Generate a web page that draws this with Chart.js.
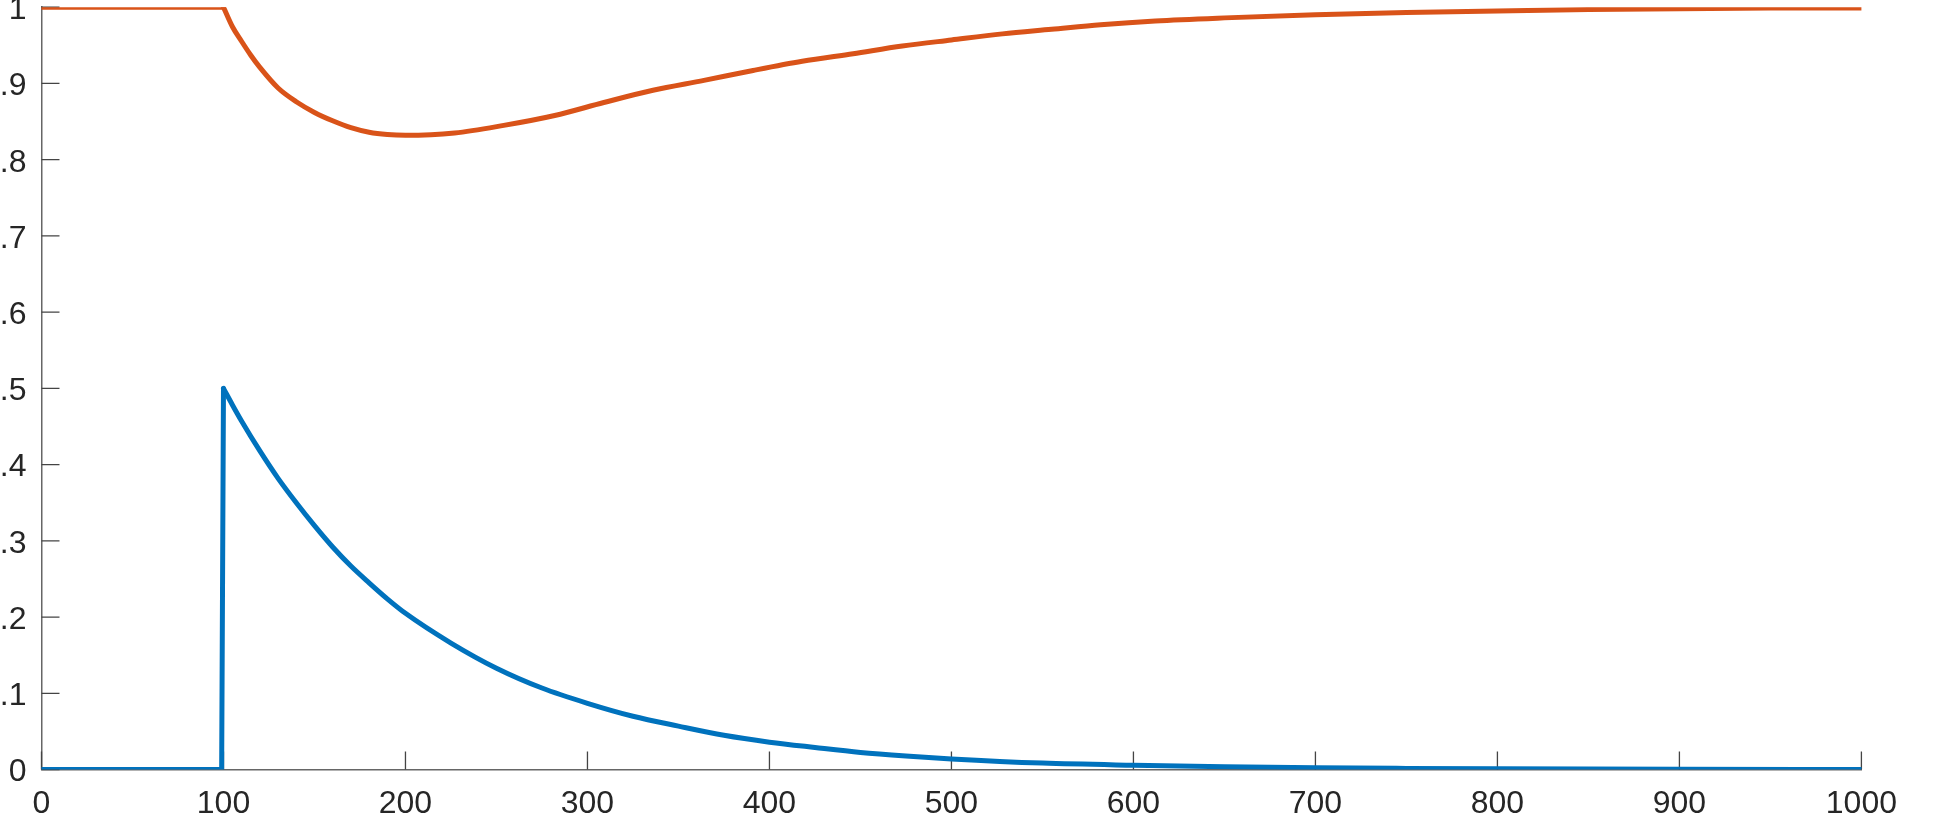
<!DOCTYPE html>
<html>
<head>
<meta charset="utf-8">
<script src="https://cdn.jsdelivr.net/npm/chart.js@4.4.1/dist/chart.umd.min.js"></script>
<style>
    html, body { margin: 0; padding: 0; background: #fff; }
    body { position: relative; width: 1937px; height: 835px; overflow: hidden; }
    #chart { position: absolute; left: 0; top: 0; }
</style>
</head>
<body>
<canvas id="chart" width="2000" height="900"></canvas>
<script>
// time axis and the two simulated signals
const blueT = [0, 99, 100, 105, 110, 120, 130, 140, 150, 160, 170, 180, 190, 200, 225, 250, 275, 300, 325, 350, 375, 400, 425, 450, 475, 500, 550, 600, 650, 700, 750, 800, 900, 1000];
const blueV = [0, 0, 0.5, 0.478, 0.457, 0.418, 0.382, 0.350, 0.320, 0.292, 0.267, 0.245, 0.224, 0.205, 0.166, 0.133, 0.107, 0.087, 0.070, 0.057, 0.045, 0.036, 0.029, 0.0225, 0.0178, 0.014, 0.0085, 0.0057, 0.0037, 0.0024, 0.0016, 0.001, 0.0004, 0.0002];

const orangeT = [0, 100, 105, 110, 115, 120, 130, 140, 150, 160, 170, 180, 190, 200, 227, 254, 282, 309, 336, 364, 391, 418, 446, 473, 500, 528, 555, 582, 612, 650, 700, 750, 800, 850, 900, 950, 1000];
const orangeV = [1, 1, 0.974, 0.955, 0.937, 0.921, 0.894, 0.876, 0.862, 0.851, 0.842, 0.836, 0.833, 0.832, 0.835, 0.845, 0.858, 0.875, 0.891, 0.904, 0.917, 0.929, 0.939, 0.949, 0.957, 0.965, 0.971, 0.977, 0.982, 0.986, 0.990, 0.993, 0.995, 0.997, 0.998, 0.999, 0.999];

// index where each signal leaves its flat start (sharp corner there)
const blueBreak = 2;
const orangeBreak = 1;

const xRange = [0, 1000];
const yRange = [0, 1];
const xStep = 100;
const yStep = 0.1;

// where the plot box sits in the page
const PLOT = { left: 41.5, top: 7, right: 1861.5, bottom: 769 };

const blueColor = '#0072BD';
const orangeColor = '#D95319';
const axisColor = '#666666';
const tickColor = '#444444';
const textColor = '#262626';
const fontFamily = '"Liberation Sans", Helvetica, Arial, sans-serif';

function toPoints(ts, vs, from, to) {
    const pts = [];
    for (let i = from; i < to; i++) {
        pts.push({ x: ts[i], y: vs[i] });
    }
    return pts;
}

// plain numbers like MATLAB: 0, 0.1 ... 1 and 1000 without grouping
function plainLabel(value) {
    return String(Math.round(value * 10) / 10);
}

function lineSet(data, color, smooth) {
    return {
        data: data,
        borderColor: color,
        borderWidth: 5,
        borderJoinStyle: 'round',
        borderCapStyle: 'round',
        pointRadius: 0,
        cubicInterpolationMode: smooth ? 'monotone' : 'default',
        tension: smooth ? 0.4 : 0,
        fill: false
    };
}

// MATLAB style tick marks pointing into the plot
const innerTicks = {
    id: 'innerTicks',
    beforeDatasetsDraw(chart) {
        const ctx = chart.ctx;
        const a = chart.chartArea;
        const xs = chart.scales.x;
        const ys = chart.scales.y;
        const len = 18;
        ctx.save();
        ctx.strokeStyle = tickColor;
        ctx.lineWidth = 1.3;
        ctx.beginPath();
        xs.ticks.forEach(function (t) {
            const px = xs.getPixelForValue(t.value);
            ctx.moveTo(px, a.bottom);
            ctx.lineTo(px, a.bottom - len);
        });
        ys.ticks.forEach(function (t) {
            const py = ys.getPixelForValue(t.value);
            ctx.moveTo(a.left, py);
            ctx.lineTo(a.left + len, py);
        });
        ctx.stroke();
        ctx.restore();
    }
};

const config = {
    type: 'line',
    data: {
        datasets: [
            lineSet(toPoints(orangeT, orangeV, 0, orangeBreak + 1), orangeColor, false),
            lineSet(toPoints(orangeT, orangeV, orangeBreak, orangeT.length), orangeColor, true),
            lineSet(toPoints(blueT, blueV, 0, blueBreak + 1), blueColor, false),
            lineSet(toPoints(blueT, blueV, blueBreak, blueT.length), blueColor, true)
        ]
    },
    options: {
        responsive: false,
        maintainAspectRatio: false,
        animation: false,
        layout: { padding: 0 },
        plugins: {
            legend: { display: false },
            tooltip: { enabled: false }
        },
        scales: {
            x: {
                type: 'linear',
                min: xRange[0],
                max: xRange[1],
                border: { display: true, color: axisColor, width: 1.5 },
                grid: { display: true, drawOnChartArea: false, drawTicks: false },
                ticks: {
                    stepSize: xStep,
                    autoSkip: false,
                    maxRotation: 0,
                    padding: 15,
                    color: textColor,
                    font: { family: fontFamily, size: 32 },
                    callback: plainLabel
                }
            },
            y: {
                type: 'linear',
                min: yRange[0],
                max: yRange[1],
                border: { display: true, color: axisColor, width: 1.5 },
                grid: { display: true, drawOnChartArea: false, drawTicks: false },
                ticks: {
                    stepSize: yStep,
                    autoSkip: false,
                    padding: 15,
                    labelOffset: 3,
                    color: textColor,
                    font: { family: fontFamily, size: 32 },
                    callback: plainLabel
                }
            }
        }
    },
    plugins: [innerTicks]
};

const canvas = document.getElementById('chart');
const chart = new Chart(canvas, config);

// size the canvas so the plot box is exactly PLOT, then shift it into place
let a = chart.chartArea;
const newW = chart.width + (PLOT.right - PLOT.left) - (a.right - a.left);
const newH = chart.height + (PLOT.bottom - PLOT.top) - (a.bottom - a.top);
chart.resize(Math.round(newW), Math.round(newH));
a = chart.chartArea;
canvas.style.left = (PLOT.left - a.left) + 'px';
canvas.style.top = (PLOT.top - a.top) + 'px';
</script>
</body>
</html>
